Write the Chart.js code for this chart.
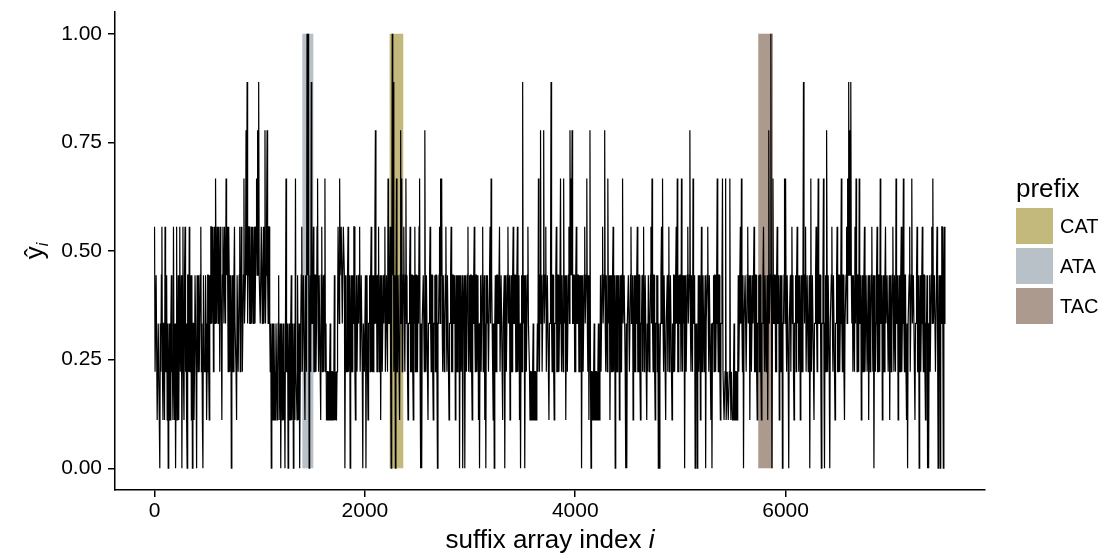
<!DOCTYPE html>
<html>
<head>
<meta charset="utf-8">
<script src="https://cdn.jsdelivr.net/npm/chart.js@4.4.0/dist/chart.umd.min.js"></script>
<style>
  html, body { margin: 0; padding: 0; background: #fff; }
  #wrap { width: 1103px; height: 553px; position: relative; }
</style>
</head>
<body>
<div id="wrap"><canvas id="saChart"></canvas></div>
<script>
// two values per indexStep positions of the suffix array (main + in-between)
var indexStep = 10;
// y-hat values as counts out of 9
var yNinths = [
  5,2,4,1,3,0,2,5,1,3,5,2,1,0,3,1,4,2,5,1,0,5,2,1,5,
  2,0,5,1,5,3,0,4,5,2,1,0,3,2,4,0,3,4,2,5,3,0,4,2,3,
  2,4,1,3,5,4,2,5,6,3,4,5,2,4,1,5,3,4,6,5,2,4,3,0,4,
  2,5,3,1,4,2,5,3,4,2,6,3,7,8,4,5,3,5,4,3,5,4,6,7,8,
  4,3,5,4,3,7,4,7,3,5,2,0,3,1,2,1,3,2,4,1,0,3,2,1,0,
  6,2,0,3,1,4,2,0,3,6,2,4,1,0,3,5,2,4,1,3,9,9,0,4,8,
  3,5,2,4,3,6,2,4,1,5,3,2,6,3,1,2,1,3,1,2,1,4,2,1,3,
  5,6,4,5,3,5,0,4,2,5,3,0,4,2,3,5,1,4,2,3,5,2,4,0,3,
  2,0,4,1,3,2,5,4,2,3,7,4,2,5,3,1,4,2,3,5,2,4,6,3,5,
  0,9,8,3,0,6,2,4,1,7,6,3,5,2,6,4,1,3,5,2,4,1,3,2,4,
  2,3,6,0,0,3,4,7,2,4,1,3,5,2,4,1,3,2,4,0,3,5,6,6,2,
  4,3,5,2,4,1,3,5,2,4,3,1,4,2,3,0,4,2,0,3,0,4,2,5,3,
  2,4,1,3,5,2,4,3,1,0,4,2,5,3,1,0,3,4,2,5,6,3,1,0,4,
  2,4,3,5,2,4,1,3,0,4,2,5,3,1,4,2,5,3,4,2,5,3,1,0,4,
  8,3,0,4,2,5,3,1,2,1,3,1,2,1,3,6,2,7,4,2,7,3,5,2,4,
  1,3,8,2,4,1,3,5,2,4,3,6,2,4,6,3,1,4,2,5,7,6,7,3,4,
  2,5,3,4,2,3,0,4,2,5,3,6,2,1,7,0,2,1,3,1,2,1,3,1,4,
  2,5,3,7,2,4,6,3,1,4,2,5,3,0,4,2,3,1,4,2,6,3,4,0,0,
  3,4,2,5,3,1,4,2,3,5,2,4,1,3,2,5,3,4,1,2,4,3,5,6,2,
  4,1,3,2,0,0,3,5,6,2,4,1,3,2,5,3,4,1,2,4,3,5,6,2,3,
  4,6,2,3,0,4,2,5,3,7,2,4,6,3,0,2,0,4,3,1,5,2,4,3,0,
  3,5,2,4,1,0,3,2,4,3,6,2,4,1,3,6,2,1,6,1,2,1,6,1,2,
  1,3,1,2,1,4,3,5,6,2,0,3,4,2,5,3,1,4,2,3,5,2,4,1,3,
  2,4,1,3,5,2,4,3,1,7,3,9,0,6,3,4,2,5,3,1,4,2,0,3,6,
  6,2,4,0,3,2,5,4,1,3,2,5,4,3,1,4,2,8,3,5,2,4,3,0,6,
  2,4,1,3,5,2,6,3,4,0,3,6,0,4,7,2,4,0,3,5,2,4,1,3,5,
  2,4,3,6,2,4,1,3,5,6,8,7,8,3,2,4,5,6,2,4,6,3,1,4,2,
  5,3,4,2,1,4,3,5,2,0,4,3,5,2,4,6,3,1,4,2,5,3,4,2,1,
  4,3,5,2,4,6,3,1,4,2,5,3,6,2,4,1,0,3,5,2,6,3,4,1,3,
  5,2,0,4,3,5,2,4,1,3,0,0,4,2,5,6,3,4,2,5,0,4,0,3,5,
  0,5,3
];
// values half a step later, counts out of 9
var yNinthsMid = [
  2,4,1,3,1,3,4,2,3,1,2,4,3,2,1,3,2,1,2,3,2,1,4,3,2,
  4,3,2,4,2,1,4,2,2,4,4,3,1,4,2,4,2,2,4,2,1,4,2,4,1,
  4,2,4,5,3,5,4,3,4,5,3,4,5,3,4,4,5,3,4,4,5,2,4,3,2,
  4,3,2,4,2,4,2,5,2,4,3,4,4,3,5,3,4,3,5,4,3,5,4,4,4,
  3,5,3,5,4,3,5,4,5,3,3,2,1,3,1,3,1,3,1,3,2,1,3,2,3,
  2,3,2,1,3,1,3,2,1,2,1,2,3,2,4,2,4,2,4,2,4,5,3,2,3,
  4,2,4,2,5,3,4,2,4,2,4,4,2,1,2,1,2,1,2,1,2,1,1,2,5,
  3,4,5,3,5,4,3,2,4,2,4,3,2,4,5,2,3,2,4,4,2,4,2,3,2,
  4,3,2,3,4,4,2,2,4,5,3,2,4,2,4,3,2,4,4,2,4,2,3,4,2,
  3,4,2,4,3,2,4,2,4,3,2,4,3,4,3,2,3,4,2,4,2,4,5,4,2,
  4,5,2,3,3,4,2,3,4,2,3,4,3,4,2,3,4,4,2,3,4,3,4,3,4,
  2,4,3,4,2,3,4,2,4,3,4,3,2,4,4,3,2,4,3,4,3,2,4,2,4,
  4,2,4,4,3,4,2,4,3,3,2,4,2,4,3,4,4,2,4,3,4,2,3,3,2,
  4,3,4,2,4,2,3,4,3,2,4,3,4,3,2,4,3,4,2,4,2,4,3,3,2,
  3,4,3,2,4,3,2,2,1,2,1,2,1,2,2,3,4,3,2,4,3,4,2,4,2,
  3,4,3,4,2,3,4,2,4,2,4,3,4,2,3,4,3,2,4,3,4,4,3,4,2,
  4,3,4,2,4,4,3,2,4,3,4,3,4,3,2,2,1,2,1,2,1,2,1,2,2,
  4,3,4,3,4,2,3,4,3,2,4,2,4,3,2,4,4,3,2,4,3,4,2,3,3,
  4,2,4,3,4,3,2,4,4,2,4,2,3,4,4,2,4,2,3,4,2,4,3,3,4,
  2,3,4,4,3,2,4,3,3,4,2,3,4,4,2,4,2,3,4,2,4,3,2,4,4,
  2,3,4,4,3,2,4,3,4,3,4,2,3,4,3,3,2,2,4,3,2,4,2,4,3,
  4,3,4,2,3,3,4,4,2,4,3,4,2,3,4,2,1,2,1,2,1,2,2,2,1,
  2,1,2,1,2,2,4,3,3,4,3,4,2,4,3,4,3,2,4,4,2,4,2,3,4,
  4,2,3,4,3,4,2,4,3,3,4,4,3,3,4,2,4,3,4,3,2,4,3,4,3,
  3,4,2,3,4,4,3,2,3,4,4,3,2,4,3,2,4,4,4,2,4,2,4,3,2,
  4,2,3,4,3,4,3,4,2,3,4,2,3,2,4,4,2,3,4,3,4,2,3,4,2,
  4,2,4,3,4,2,3,4,3,4,4,4,4,4,4,2,3,4,4,2,3,4,3,2,4,
  2,4,2,4,3,2,4,3,4,3,2,4,2,4,2,3,4,3,2,4,3,4,2,4,3,
  2,4,3,4,2,3,4,3,2,4,2,4,3,4,2,3,3,4,2,4,3,4,2,3,4,
  2,4,3,2,4,3,4,2,3,4,3,3,2,4,3,3,4,2,4,3,3,3,4,5,3,
  4,3
];
var prefixNames = ['CAT', 'ATA', 'TAC'];
var prefixColors = ['#c4b97c', '#b8c1c8', '#ad9a8e'];
var prefixStart = [2235, 1405, 5740];
var prefixEnd = [2365, 1510, 5880];
var xTicks = [0, 2000, 4000, 6000];
var yTicks = [0, 0.25, 0.5, 0.75, 1];

var fontFamily = '"Liberation Sans", Arial, Helvetica, sans-serif';

document.addEventListener('DOMContentLoaded', function () {
    var points = [];
    for (var k = 0; k < yNinths.length; k++) {
        points.push({ x: k * indexStep, y: yNinths[k] / 9 });
        if (k < yNinthsMid.length) {
            points.push({ x: k * indexStep + indexStep / 2, y: yNinthsMid[k] / 9 });
        }
    }
    // ggplot-style 5% expansion of the data range
    var xLast = (yNinths.length - 1) * indexStep;
    var xMin = -0.05 * xLast;
    var xMax = xLast * 1.05;

    var decorPlugin = {
        id: 'decor',
        beforeDatasetsDraw: function (chart) {
            var ctx = chart.ctx, xs = chart.scales.x, ys = chart.scales.y;
            ctx.save();
            for (var i = 0; i < prefixNames.length; i++) {
                var x0 = xs.getPixelForValue(prefixStart[i]);
                var x1 = xs.getPixelForValue(prefixEnd[i]);
                var y0 = ys.getPixelForValue(1);
                var y1 = ys.getPixelForValue(0);
                ctx.fillStyle = prefixColors[i];
                ctx.fillRect(x0, y0, x1 - x0, y1 - y0);
            }
            ctx.restore();
        },
        afterDraw: function (chart) {
            var ctx = chart.ctx, area = chart.chartArea;
            ctx.save();
            ctx.fillStyle = '#000';
            ctx.textAlign = 'left';
            ctx.textBaseline = 'alphabetic';

            // x axis title with italic i
            var plain = 'suffix array index ';
            ctx.font = '26px ' + fontFamily;
            var wPlain = ctx.measureText(plain).width;
            ctx.font = 'italic 26px ' + fontFamily;
            var wI = ctx.measureText('i').width;
            var sx = (area.left + area.right) / 2 - (wPlain + wI) / 2;
            ctx.font = '26px ' + fontFamily;
            ctx.fillText(plain, sx, 548);
            ctx.font = 'italic 26px ' + fontFamily;
            ctx.fillText('i', sx + wPlain, 548);

            // y axis title: y hat, subscript i
            ctx.save();
            ctx.translate(43, (area.top + area.bottom) / 2);
            ctx.rotate(-Math.PI / 2);
            ctx.font = '26px ' + fontFamily;
            var wY = ctx.measureText('\u0177').width;
            ctx.font = 'italic 16px ' + fontFamily;
            var wSub = ctx.measureText('i').width;
            var ty = -(wY + wSub) / 2;
            ctx.font = '26px ' + fontFamily;
            ctx.fillText('\u0177', ty, 0);
            ctx.font = 'italic 16px ' + fontFamily;
            ctx.fillText('i', ty + wY, 5);
            ctx.restore();

            // legend
            ctx.font = '26px ' + fontFamily;
            ctx.fillText('prefix', 1016, 197);
            ctx.font = '20px ' + fontFamily;
            ctx.textBaseline = 'middle';
            for (var i = 0; i < prefixNames.length; i++) {
                var ky = 208 + i * 40;
                ctx.fillStyle = prefixColors[i];
                ctx.fillRect(1016, ky, 37, 36);
                ctx.fillStyle = '#000';
                ctx.fillText(prefixNames[i], 1060, ky + 19);
            }
            ctx.restore();
        }
    };

    var ctxSa = document.getElementById('saChart').getContext('2d');
    var saChart = new Chart(ctxSa, {
        type: 'line',
        data: {
            datasets: [{
                data: points,
                borderColor: '#000',
                borderWidth: 1.2,
                pointRadius: 0,
                fill: false,
                tension: 0
            }]
        },
        options: {
            responsive: true,
            maintainAspectRatio: false,
            animation: false,
            layout: { padding: { top: 12, right: 118, bottom: 0, left: 0 } },
            plugins: {
                legend: { display: false },
                tooltip: { enabled: false }
            },
            scales: {
                x: {
                    type: 'linear',
                    min: xMin,
                    max: xMax,
                    afterBuildTicks: function (axis) {
                        axis.ticks = xTicks.map(function (v) { return { value: v }; });
                    },
                    afterFit: function (axis) {
                        axis.height = 63;
                        axis.paddingLeft = 0;
                        axis.paddingRight = 0;
                    },
                    grid: { drawOnChartArea: false, drawTicks: true, tickLength: 7, color: '#000', lineWidth: 1.5 },
                    border: { display: true, color: '#000', width: 1.5 },
                    ticks: {
                        color: '#000',
                        font: { family: fontFamily, size: 21 },
                        padding: 2,
                        maxRotation: 0,
                        callback: function (v) { return String(v); }
                    }
                },
                y: {
                    type: 'linear',
                    min: -0.05,
                    max: 1.05,
                    afterBuildTicks: function (axis) {
                        axis.ticks = yTicks.map(function (v) { return { value: v }; });
                    },
                    afterFit: function (axis) {
                        axis.width = 115;
                        axis.paddingTop = 0;
                        axis.paddingBottom = 0;
                    },
                    grid: { drawOnChartArea: false, drawTicks: true, tickLength: 7, color: '#000', lineWidth: 1.5 },
                    border: { display: true, color: '#000', width: 1.5 },
                    ticks: {
                        color: '#000',
                        font: { family: fontFamily, size: 21 },
                        padding: 6,
                        callback: function (v) { return v.toFixed(2); }
                    }
                }
            }
        },
        plugins: [decorPlugin]
    });
});
</script>
</body>
</html>
